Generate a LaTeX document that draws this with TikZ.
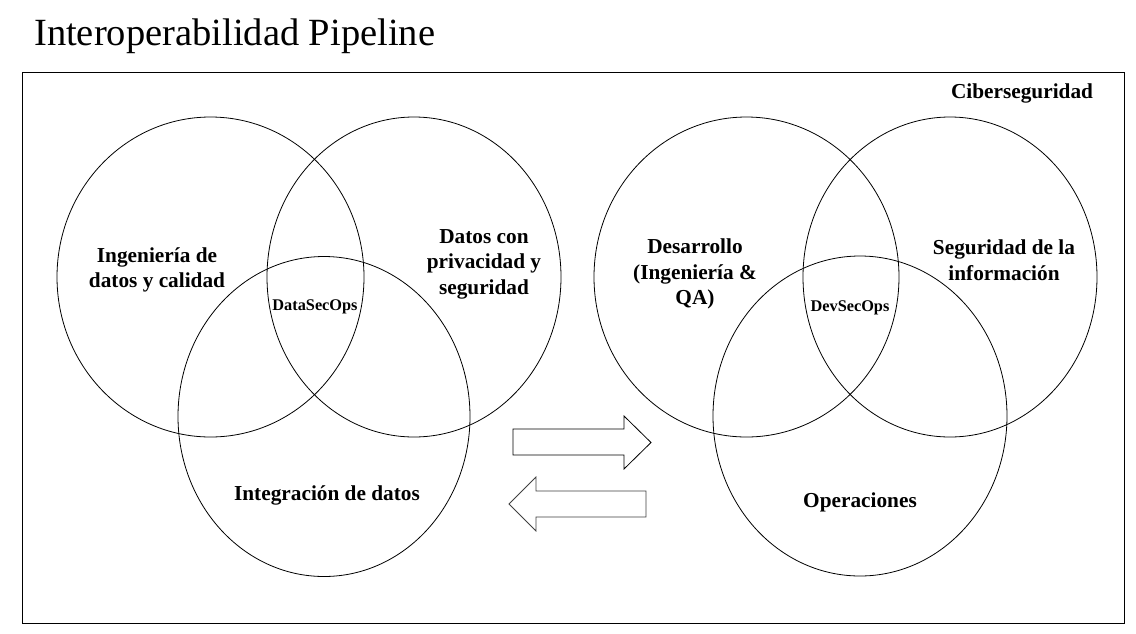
\documentclass[tikz,border=0pt]{standalone}
\usepackage{fontspec}
\setmainfont{Liberation Serif}
\usetikzlibrary{shapes.geometric}
\begin{document}
\begin{tikzpicture}[x=1pt,y=-1pt,
  venn/.style={draw=black,line width=0.8pt,ellipse,inner sep=0pt,outer sep=0pt},
  lbl/.style={font=\fontsize{21.3}{25.5}\selectfont\bfseries,align=center,inner sep=0pt},
  small/.style={font=\fontsize{16.3}{19}\selectfont\bfseries,inner sep=0pt},
  blockarrow/.style={draw=black,line width=0.8pt,fill=white,line join=miter}]
\useasboundingbox (0,0) rectangle (1136,633);
\fill[white] (0,0) rectangle (1136,633);
% title
\node[anchor=base west,inner sep=0pt,font=\fontsize{38.5}{42}\selectfont] (title) at (34,45) {Interoperabilidad Pipeline};
% frame
\node[draw=black,line width=1pt,inner sep=0pt,outer sep=0pt,minimum width=1101.5pt,minimum height=551pt] (frame) at (573.25,347.5) {};
% left venn
\node[venn,minimum width=307pt,minimum height=320pt] (ca) at (210.5,277) {};
\node[venn,minimum width=294pt,minimum height=320pt] (cb) at (414,277) {};
\node[venn,minimum width=292pt,minimum height=320pt] (cc) at (324,416.5) {};
% right venn
\node[venn,minimum width=305pt,minimum height=320pt] (cd) at (746.5,277) {};
\node[venn,minimum width=294pt,minimum height=320pt] (ce) at (950,277) {};
\node[venn,minimum width=294pt,minimum height=320pt] (cf) at (860,416) {};
% labels
\node[lbl] (ta) at (157,270) {Ingeniería de\\datos y calidad};
\node[lbl] (tb) at (484,264) {Datos con\\privacidad y\\seguridad};
\node[lbl] (tc) at (327,495) {Integración de datos};
\node[small] (tds) at (315,307) {DataSecOps};
\node[lbl] (td) at (695,274) {Desarrollo\\(Ingeniería \&\\QA)};
\node[lbl] (te) at (1004,260) {Seguridad de la\\información};
\node[lbl] (tf) at (860,502) {Operaciones};
\node[small] (tdv) at (850,308) {DevSecOps};
\node[lbl] (tcs) at (1022,93) {Ciberseguridad};
% block arrows
\draw[blockarrow] (513,429) -- (624,429) -- (624,416) -- (651,442.5) -- (624,469) -- (624,455) -- (513,455) -- cycle;
\draw[blockarrow,draw=black!75] (646,491) -- (536,491) -- (536,477) -- (509,504) -- (536,531) -- (536,517) -- (646,517) -- cycle;
\end{tikzpicture}
\end{document}
